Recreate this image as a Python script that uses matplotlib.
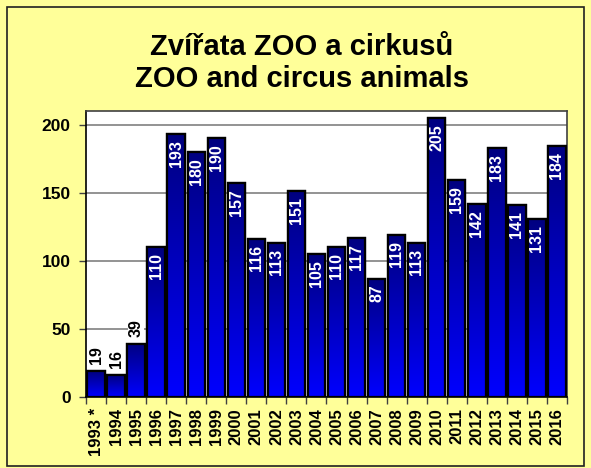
import matplotlib
matplotlib.use("Agg")
import matplotlib.pyplot as plt
from matplotlib.patches import Rectangle
from matplotlib.colors import LinearSegmentedColormap
import numpy as np

years = ["1993 *", "1994", "1995", "1996", "1997", "1998", "1999", "2000",
         "2001", "2002", "2003", "2004", "2005", "2006", "2007", "2008",
         "2009", "2010", "2011", "2012", "2013", "2014", "2015", "2016"]
values = [19, 16, 39, 110, 193, 180, 190, 157, 116, 113, 151, 105, 110, 117,
          87, 119, 113, 205, 159, 142, 183, 141, 131, 184]
yticks = [0, 50, 100, 150, 200]
title = "Zvířata ZOO a cirkusů\nZOO and circus animals"

plt.rcParams['font.family'] = ['Liberation Sans', 'DejaVu Sans']

W, H = 591, 468
fig = plt.figure(figsize=(W / 100, H / 100), dpi=100)
fig.patch.set_facecolor('#FFFF99')

# outer border
fig.patches.append(Rectangle((7 / W, 1 - 466 / H), (584 - 7) / W, (466 - 7) / H,
                             transform=fig.transFigure, fill=False,
                             edgecolor='#202020', linewidth=1.2))

ax = fig.add_axes([86 / W, 1 - 397 / H, (567 - 86) / W, (397 - 111) / H])
ax.set_facecolor('white')
x = np.arange(len(values))
bars = ax.bar(x, values, width=0.87, color='#0000CC', edgecolor='black',
              linewidth=1.6, zorder=3)

grad = np.linspace(0, 1, 256).reshape(-1, 1)
cmap = LinearSegmentedColormap.from_list('g', ['#0000FF', '#000080'])
for b in bars:
    x0, w, h = b.get_x(), b.get_width(), b.get_height()
    im = ax.imshow(grad, cmap=cmap, aspect='auto', origin='lower',
                   extent=[x0, x0 + w, 0, h], zorder=3.5)
    im.set_clip_path(b)
    ax.add_patch(Rectangle((x0, 0), w, h, fill=False, edgecolor='black',
                           linewidth=1.6, zorder=4))

for xi, v in zip(x, values):
    if v < 60:
        ax.text(xi, v + 5, str(v), rotation=90, ha='center', va='bottom',
                color='black', fontsize=11.5, fontweight='bold', zorder=5,
                bbox=dict(facecolor='white', edgecolor='none', pad=0.5))
    else:
        ax.text(xi, v - 4.5, str(v), rotation=90, ha='center', va='top',
                color='white', fontsize=11.5, fontweight='bold', zorder=5)

ax.set_xlim(-0.5, len(values) - 0.5)
ax.set_ylim(0, 210)
ax.set_yticks(yticks)
ax.set_yticklabels([str(t) for t in yticks], fontsize=12.5, fontweight='bold')
ax.yaxis.grid(True, color='#808080', linewidth=1.2, zorder=0)
ax.set_axisbelow(True)
ax.set_xticks(x)
ax.set_xticklabels(years, rotation=90, fontsize=12, fontweight='bold')
ax.set_xticks(np.arange(len(values) + 1) - 0.5, minor=True)
ax.tick_params(axis='x', which='major', length=0, pad=8)
ax.tick_params(axis='x', which='minor', length=5, width=1, color='#404040')
ax.tick_params(axis='y', length=5, width=1, color='#404040', pad=6)
for s in ax.spines.values():
    s.set_color('#404040')
    s.set_linewidth(1.2)
ax.spines['left'].set_color('black')
ax.spines['bottom'].set_color('black')

fig.text(302 / W, 1 - 63 / H, title, ha='center', va='center', fontsize=21,
         fontweight='bold', linespacing=1.2)

fig.savefig('out.png', dpi=100, facecolor=fig.get_facecolor())
